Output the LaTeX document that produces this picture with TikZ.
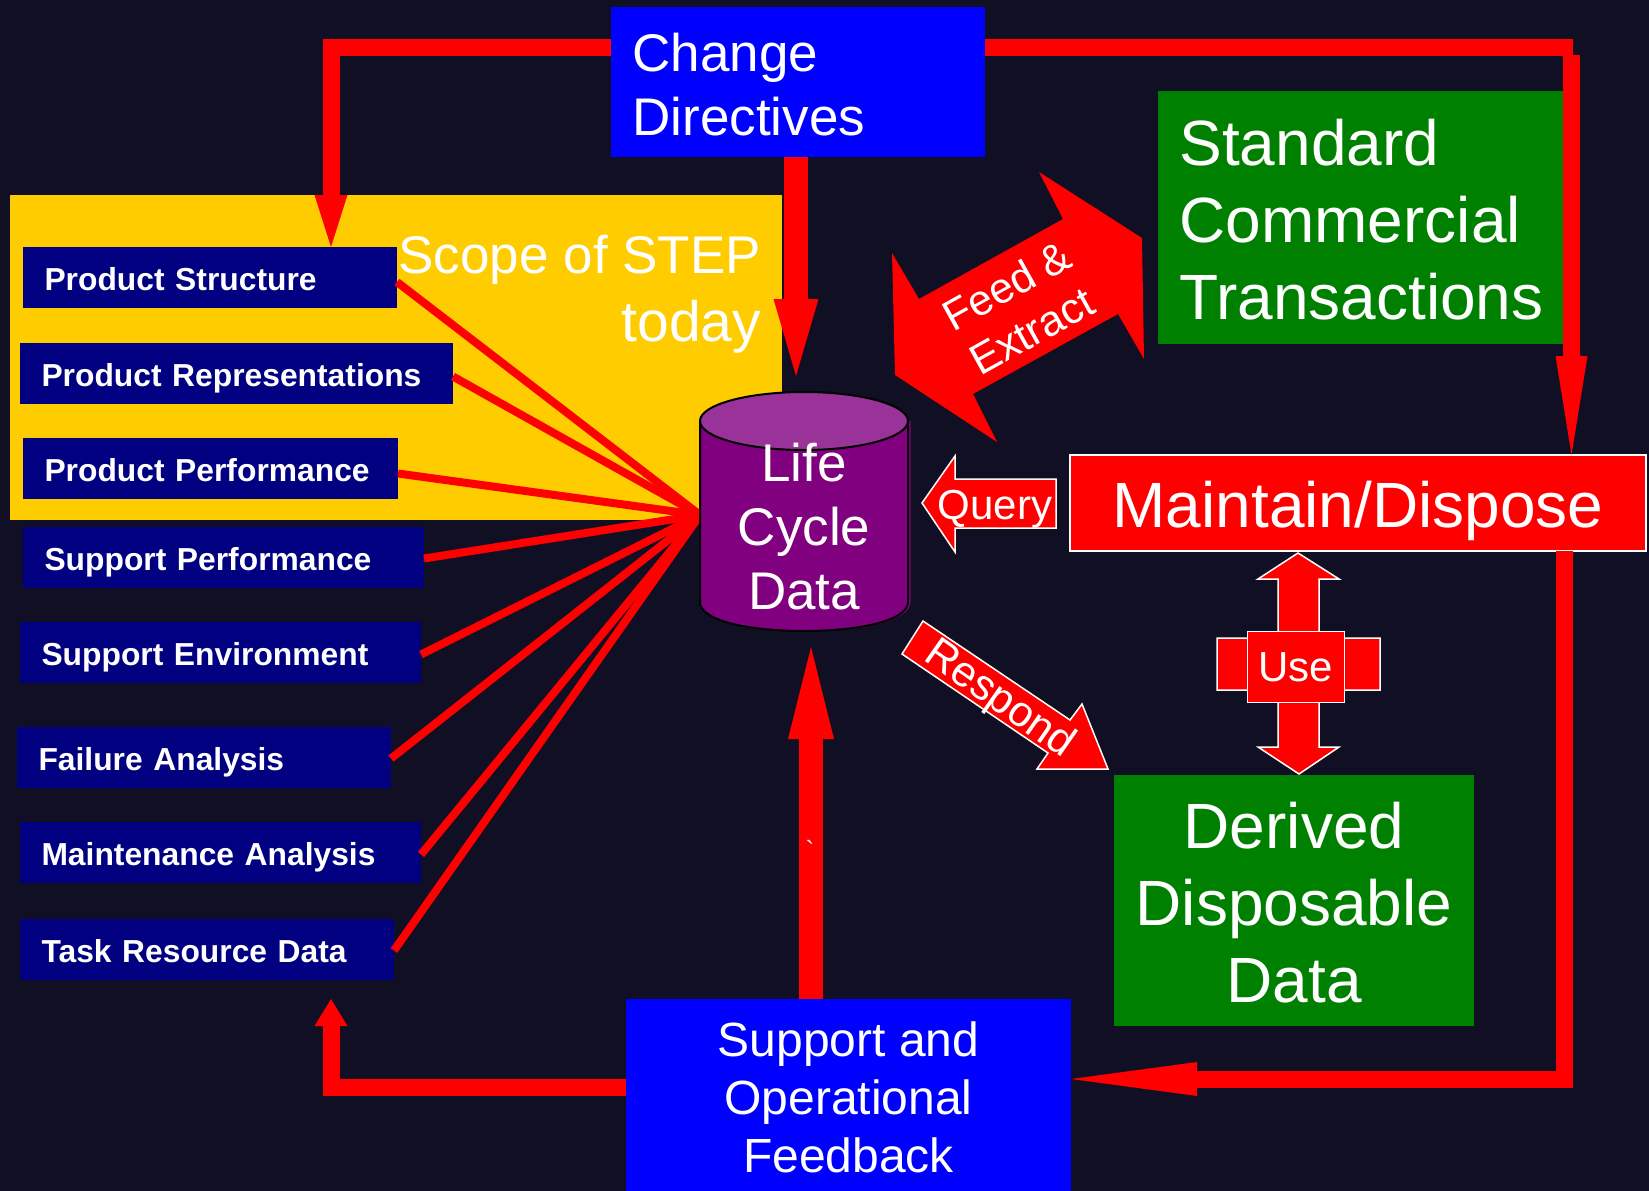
\documentclass[tikz,border=0pt]{standalone}
\usepackage{fontspec}
\setmainfont{Liberation Sans}
\newfontfamily\gravefont{Liberation Sans}
\usetikzlibrary{arrows.meta}
\usetikzlibrary{positioning}
\definecolor{slide}{HTML}{100F23}
\definecolor{navybox}{HTML}{000080}
\definecolor{greenbox}{HTML}{008000}
\definecolor{scopeyellow}{HTML}{FFCC00}
\definecolor{cylbody}{HTML}{800080}
\definecolor{cyltop}{HTML}{993399}
\tikzset{
  every node/.style={text=white,inner sep=0pt,outer sep=0pt},
  datalabel/.style={fill=navybox,anchor=north west,minimum height=61pt,text height=25pt,text depth=0pt,inner xsep=21.5pt,align=left,font=\fontsize{31.8}{38}\selectfont\bfseries},
  bluebox/.style={fill=blue,anchor=north west},
  greenblock/.style={fill=greenbox,anchor=north west},
  spoke/.style={draw=red,line width=8pt},
  flow/.style={draw=red,line width=17pt,line join=miter},
  callout/.style={fill=red,draw=white,line width=1.5pt,line join=miter},
}
\begin{document}
\begin{tikzpicture}[x=1pt,y=-1pt]
\path[fill=slide,use as bounding box] (0,0) rectangle (1649,1191);

\node[anchor=north west,fill=scopeyellow,minimum width=772pt,minimum height=325pt] (scopebox) at (10,195) {};
\node[anchor=north east,align=right,font=\fontsize{53}{68}\selectfont] (scopelabel) at (761,235) {Scope of STEP\\{\fontsize{57}{68}\selectfont today}};

\node[bluebox,minimum width=374pt,minimum height=150pt,text width=331pt,inner xsep=21.5pt,align=left,font=\fontsize{53}{64}\selectfont] (change) at (611,7) {\rule{0pt}{43pt}Change\\Directives};
\node[greenblock,minimum width=406pt,minimum height=253pt,text width=363pt,inner xsep=21.5pt,align=left,font=\fontsize{64}{77}\selectfont] (standard) at (1158,91) {\rule{0pt}{51pt}Standard\\Commercial\\Transactions};
\node[fill=red,draw=white,line width=1.5pt,anchor=north west,minimum width=576pt,minimum height=96pt,text height=49pt,text depth=0pt,font=\fontsize{64}{78}\selectfont] (maintain) at (1070,455) {Maintain/Dispose};
\node[greenblock,minimum width=360pt,minimum height=251pt,align=center,font=\fontsize{64}{77}\selectfont] (derived) at (1114,775) {\rule{0pt}{51pt}Derived\\Disposable\\Data};
\node[bluebox,minimum width=445pt,minimum height=192pt,align=center,font=\fontsize{48}{58}\selectfont] (support) at (626,999) {\rule{0pt}{39pt}Support and\\Operational\\Feedback};

\node[datalabel,text width=331pt] (structure) at (23,247) {Product Structure};
\node[datalabel,text width=390pt] (representations) at (20,343) {Product Representations};
\node[datalabel,text width=332pt] (performance) at (23,438) {Product Performance};
\node[datalabel,text width=358pt] (supportperf) at (23,527) {Support Performance};
\node[datalabel,text width=358pt] (environment) at (20,622) {Support Environment};
\node[datalabel,text width=331pt] (failure) at (17,727) {Failure Analysis};
\node[datalabel,text width=358pt] (maintenance) at (20,822) {Maintenance Analysis};
\node[datalabel,text width=331pt] (taskdata) at (20,919) {Task Resource Data};

\node[minimum width=208pt,minimum height=238pt,anchor=north west] (life) at (700,393) {};

\foreach \src/\drop in {structure/4.5,representations/3,performance/5,supportperf/1,environment/2,failure/1,maintenance/2,taskdata/1}
  \draw[spoke] ([yshift=-\drop pt]\src.east) -- ([yshift=-3pt]life.west);

\draw[cylbody,line width=1pt,fill=cylbody,xshift=2pt] (700,421) -- (700,602) .. controls (700,621) and (750,631) .. (804,631) .. controls (858,631) and (908,621) .. (908,602) -- (908,421) -- cycle;
\draw[black,line width=2pt,fill=cylbody] (700,421) -- (700,602) .. controls (700,621) and (750,631) .. (804,631) .. controls (858,631) and (908,621) .. (908,602) -- (908,421) -- cycle;
\draw[black,line width=2pt,fill=cyltop] (804,421) ellipse [x radius=104pt,y radius=29pt];
\node[align=center,font=\fontsize{53}{64}\selectfont,above=-217pt of life.north] (lifelabel) {Life\\Cycle\\Data};

\coordinate (topend) at (1573,47);
\coordinate (topturn) at (1571.5,55);
\draw[flow,-{Triangle[length=52pt 0 0,width=33pt 0 0,line width=0pt]}] ([yshift=-40pt]change.north west) -| ([xshift=121pt]structure.north);
\draw[flow] ([yshift=-40pt]change.north east) -- (topend);
\draw[flow,-{Triangle[length=99pt 0 0,width=32pt 0 0,line width=0pt]}] (topturn) -- (topturn |- maintain.north);
\draw[flow,line width=24pt,-{Triangle[length=77pt 0 0,width=45pt 0 0,line width=0pt]}] ([xshift=-2pt]change.south) -- ([xshift=-8pt,yshift=17pt]life.north);
\draw[flow,line width=24pt,-{Triangle[length=92pt 0 0,width=46pt 0 0,line width=0pt]}] ([xshift=-37.5pt]support.north) -- ([xshift=7pt,yshift=-16pt]life.south);
\draw[flow,-{Triangle[length=126pt 0 0,width=34pt 0 0,line width=0pt]}] ([xshift=206pt]maintain.south) |- ([yshift=-80pt]support.north east);
\draw[flow,-{Triangle[length=27pt 0 0,width=33pt 0 0,line width=0pt]}] ([yshift=-88pt]support.north west) -| ([xshift=124pt,yshift=-19pt]taskdata.south);

\node[font=\fontsize{26}{30}\selectfont\gravefont] (grave) at (810,850) {`};

\draw[fill=red,draw=none] (1039,172) -- (1142,238) -- (1144,359) -- (1118,314) -- (973,394) -- (997,442) -- (895,375) -- (892,253) -- (919,299) -- (1063,219) -- cycle;
\node[rotate=29,align=center,font=\fontsize{43}{52}\selectfont] (feed) at (1019,308) {Feed \&\\Extract};

\draw[callout] (922,503) -- (955,456) -- (955,479) -- (1056,479) -- (1056,528) -- (955,528) -- (955,552) -- cycle;
\node[font=\fontsize{42}{50}\selectfont] (query) at (995,509) {Query};

\draw[callout] (923,621) -- (1070,720) -- (1082,704) -- (1108,769) -- (1037,769) -- (1048,753) -- (902,654) -- cycle;
\node[rotate=-35,font=\fontsize{43}{50}\selectfont] (respond) at (999,700) {Respond};

\draw[callout] (1298,553) -- (1339,579) -- (1319,579) -- (1319,638) -- (1380,638) -- (1380,690) -- (1319,690) -- (1319,747) -- (1339,747) -- (1299,774) -- (1258,747) -- (1278,747) -- (1278,690) -- (1217,690) -- (1217,638) -- (1278,638) -- (1278,579) -- (1258,579) -- cycle;
\node[fill=red,draw=white,line width=1.5pt,minimum width=97pt,minimum height=71pt,font=\fontsize{42}{48}\selectfont] (use) at (1296,667) {Use};
\end{tikzpicture}
\end{document}
